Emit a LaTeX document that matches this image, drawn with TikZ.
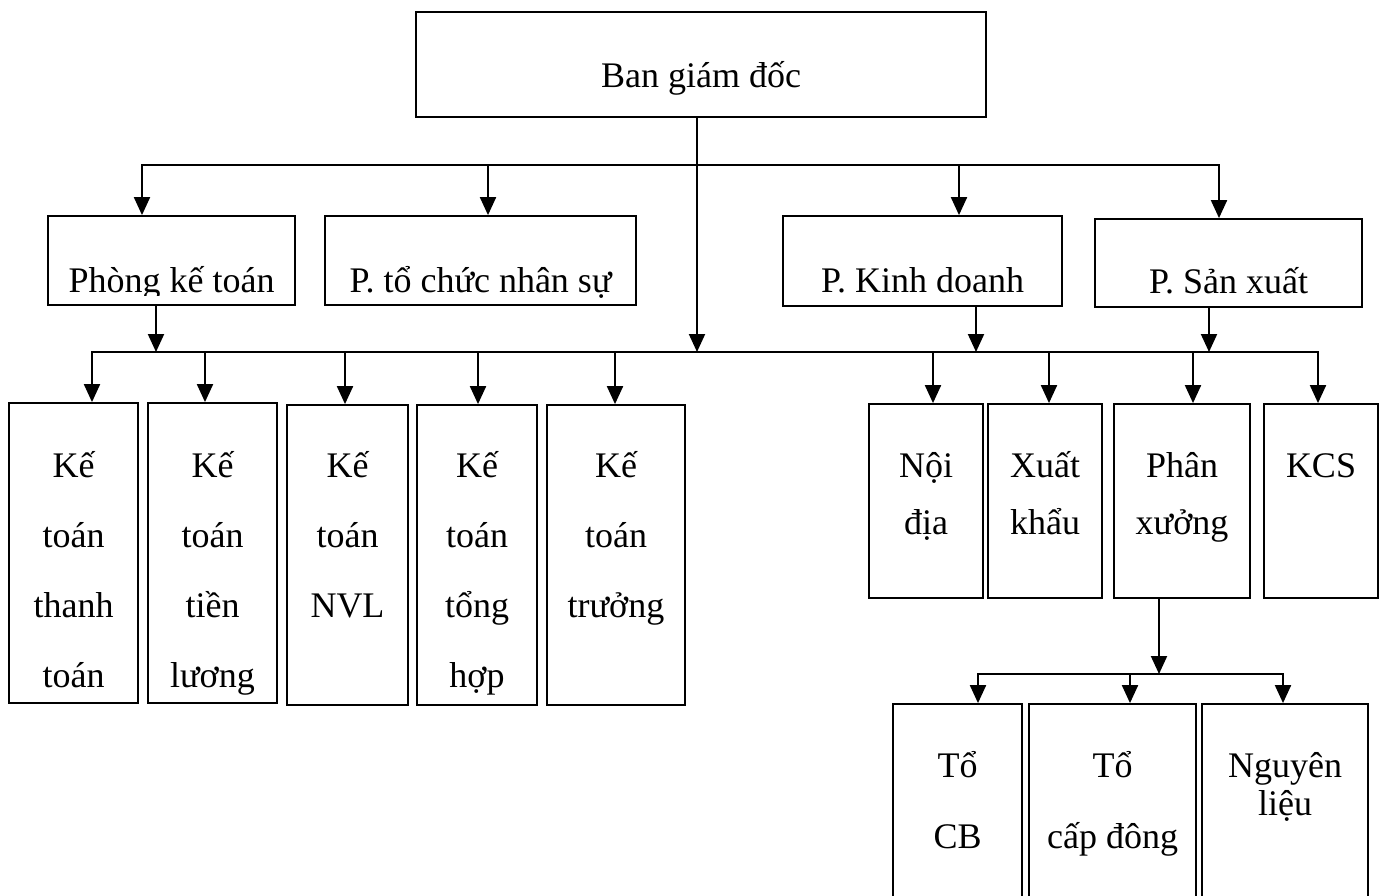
\documentclass[tikz,border=0pt]{standalone}
\usepackage{fontspec}
\setmainfont{Liberation Serif}
\usetikzlibrary{arrows.meta,fit}
\newcommand\mlines[1]{\begin{tabular}[t]{@{}c@{}}#1\end{tabular}}
\begin{document}
\begin{tikzpicture}[x=1pt,y=-1pt,
  box/.style={draw, line width=1.8pt, inner sep=0pt},
  ln/.style={line width=2pt, line cap=rect},
  arr/.style={line width=2pt, -{Triangle[width=16pt,length=18pt]}},
  lbl/.style={anchor=base, inner sep=0pt, font=\fontsize{36}{70}\selectfont},
  lblB/.style={lbl, font=\fontsize{36}{57}\selectfont},
  lblC/.style={lbl, font=\fontsize{36}{71}\selectfont},
  lblD/.style={lbl, font=\fontsize{36}{38}\selectfont}]
\useasboundingbox (0,0) rectangle (1386,895);
\fill[white] (0,0) rectangle (1386,895);
\clip (0,0) rectangle (1386,895);

% top
\node[box, fit={(416,12)(986,117)}] (bgd) {};
\node[lbl] (bgdt) at (701,87) {Ban giám đốc};

% departments
\node[box, fit={(48,216)(295,305)}] (pkt) {};
\begin{scope}
\clip (50,218) rectangle (293,295);
\node[lbl] (pktt) at (171.5,292) {Phòng kế toán};
\end{scope}
\node[box, fit={(325,216)(636,305)}] (ptc) {};
\node[lbl] (ptct) at (480.5,292) {P. tổ chức nhân sự};
\node[box, fit={(783,216)(1062,306)}] (pkd) {};
\node[lbl] (pkdt) at (922.5,292) {P. Kinh doanh};
\node[box, fit={(1095,219)(1362,307)}] (psx) {};
\node[lbl] (psxt) at (1228.5,293) {P. Sản xuất};

% accounting boxes
\node[box, fit={(9,403)(138,703)}] (k1) {};
\node[lbl] (k1t) at (73.5,477) {\mlines{Kế\\toán\\thanh\\toán}};
\node[box, fit={(148,403)(277,703)}] (k2) {};
\node[lbl] (k2t) at (212.5,477) {\mlines{Kế\\toán\\tiền\\lương}};
\node[box, fit={(287,405)(408,705)}] (k3) {};
\node[lbl] (k3t) at (347.5,477) {\mlines{Kế\\toán\\NVL}};
\node[box, fit={(417,405)(537,705)}] (k4) {};
\node[lbl] (k4t) at (477,477) {\mlines{Kế\\toán\\tổng\\hợp}};
\node[box, fit={(547,405)(685,705)}] (k5) {};
\node[lbl] (k5t) at (616,477) {\mlines{Kế\\toán\\trưởng}};

% business / production boxes
\node[box, fit={(869,404)(983,598)}] (nd) {};
\node[lblB] (ndt) at (926,477) {\mlines{Nội\\địa}};
\node[box, fit={(988,404)(1102,598)}] (xk) {};
\node[lblB] (xkt) at (1045,477) {\mlines{Xuất\\khẩu}};
\node[box, fit={(1114,404)(1250,598)}] (px) {};
\node[lblB] (pxt) at (1182,477) {\mlines{Phân\\xưởng}};
\node[box, fit={(1264,404)(1378,598)}] (kcs) {};
\node[lblB] (kcst) at (1321,477) {KCS};

% workshop teams
\node[box, fit={(893,704)(1022,920)}] (t1) {};
\node[lblC] (t1t) at (957.5,777) {\mlines{Tổ\\CB}};
\node[box, fit={(1029,704)(1196,920)}] (t2) {};
\node[lblC] (t2t) at (1112.5,777) {\mlines{Tổ\\cấp đông}};
\node[box, fit={(1202,704)(1368,920)}] (t3) {};
\node[lblD] (t3t) at (1285,777) {\mlines{Nguyên\\liệu}};

% level-1 connectors
\coordinate (j1L) at (142,165);
\coordinate (j1b) at (488,165);
\coordinate (j1c) at (959,165);
\coordinate (j1R) at (1219,165);
\draw[ln] (j1L) -- (j1R);
\draw[arr] (j1L) -- (j1L |- pkt.north);
\draw[arr] (j1b) -- (j1b |- ptc.north);
\draw[arr] (j1c) -- (j1c |- pkd.north);
\draw[arr] (j1R) -- (j1R |- psx.north);

% level-2 bus
\coordinate (j2L) at (92,352);
\coordinate (j2R) at (1318,352);
\draw[ln] (j2L) -- (j2R);
\coordinate (c0) at (697,352);
\draw[arr] (c0 |- bgd.south) -- (c0);
\coordinate (d1) at (156,352);
\draw[arr] (d1 |- pkt.south) -- (d1);
\coordinate (d2) at (976,352);
\draw[arr] (d2 |- pkd.south) -- (d2);
\coordinate (d3) at (1209,352);
\draw[arr] (d3 |- psx.south) -- (d3);

\coordinate (a2) at (205,352);
\coordinate (a3) at (345,352);
\coordinate (a4) at (478,352);
\coordinate (a5) at (615,352);
\coordinate (a6) at (933,352);
\coordinate (a7) at (1049,352);
\coordinate (a8) at (1193,352);
\draw[arr] (j2L) -- (j2L |- k1.north);
\draw[arr] (a2) -- (a2 |- k2.north);
\draw[arr] (a3) -- (a3 |- k3.north);
\draw[arr] (a4) -- (a4 |- k4.north);
\draw[arr] (a5) -- (a5 |- k5.north);
\draw[arr] (a6) -- (a6 |- nd.north);
\draw[arr] (a7) -- (a7 |- xk.north);
\draw[arr] (a8) -- (a8 |- px.north);
\draw[arr] (j2R) -- (j2R |- kcs.north);

% level-3
\coordinate (j3L) at (978,674);
\coordinate (j3R) at (1283,674);
\coordinate (b2) at (1130,674);
\coordinate (d4) at (1159,674);
\draw[arr] (d4 |- px.south) -- (d4);
\draw[ln] (j3L) -- (j3R);
\draw[arr] (j3L) -- (j3L |- t1.north);
\draw[arr] (b2) -- (b2 |- t2.north);
\draw[arr] (j3R) -- (j3R |- t3.north);
\end{tikzpicture}
\end{document}
